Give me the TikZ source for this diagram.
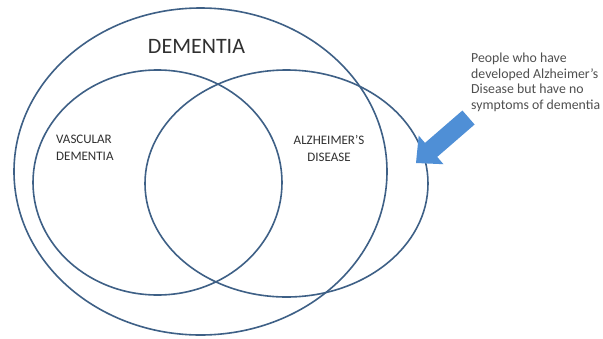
\documentclass[tikz,border=0pt]{standalone}
\usepackage{fontspec}
\setmainfont{Carlito}
\usetikzlibrary{shapes.geometric}
\definecolor{ringcol}{HTML}{3E6086}
\definecolor{arrowcol}{HTML}{4F8FD6}
\definecolor{txtcol}{HTML}{303030}
\begin{document}
\begin{tikzpicture}[x=1pt,y=-1pt,
  ring/.style={draw=ringcol, line width=1.6pt, ellipse, inner sep=0pt},
  lbl/.style={text=txtcol, inner sep=0pt}]
\useasboundingbox[fill=white] (0,0) rectangle (603,338);
% ellipses
\node[ring, minimum width=373pt, minimum height=327pt] (dem) at (200.5,171.5) {};
\node[ring, minimum width=249pt, minimum height=225pt] (vasc) at (157.5,182.5) {};
\node[ring, minimum width=283pt, minimum height=227pt] (alz) at (286.5,183.5) {};
% labels
\node[lbl, font=\fontsize{22}{26}\selectfont] (tdem) at (196.5,46) {DEMENTIA};
\node[lbl, anchor=north west, align=left, font=\fontsize{13}{17}\selectfont] (tvasc) at (56,135) {VASCULAR\\DEMENTIA};
\node[lbl, anchor=north, align=center, font=\fontsize{13}{17}\selectfont] (talz) at (329,135) {ALZHEIMER'S\\DISEASE};
\node[lbl, anchor=north west, align=left, text=txtcol!85, font=\fontsize{13.8}{15.5}\selectfont] (note) at (471,53)
  {People who have\\developed Alzheimer's\\Disease but have no\\symptoms of dementia};
% block arrow
\fill[arrowcol] (462.4,110.5) -- (474.6,124.5) -- (437.2,156.9) -- (443.5,164.2)
  -- (416,163) -- (418.7,135.6) -- (425,142.9) -- cycle;
\end{tikzpicture}
\end{document}
